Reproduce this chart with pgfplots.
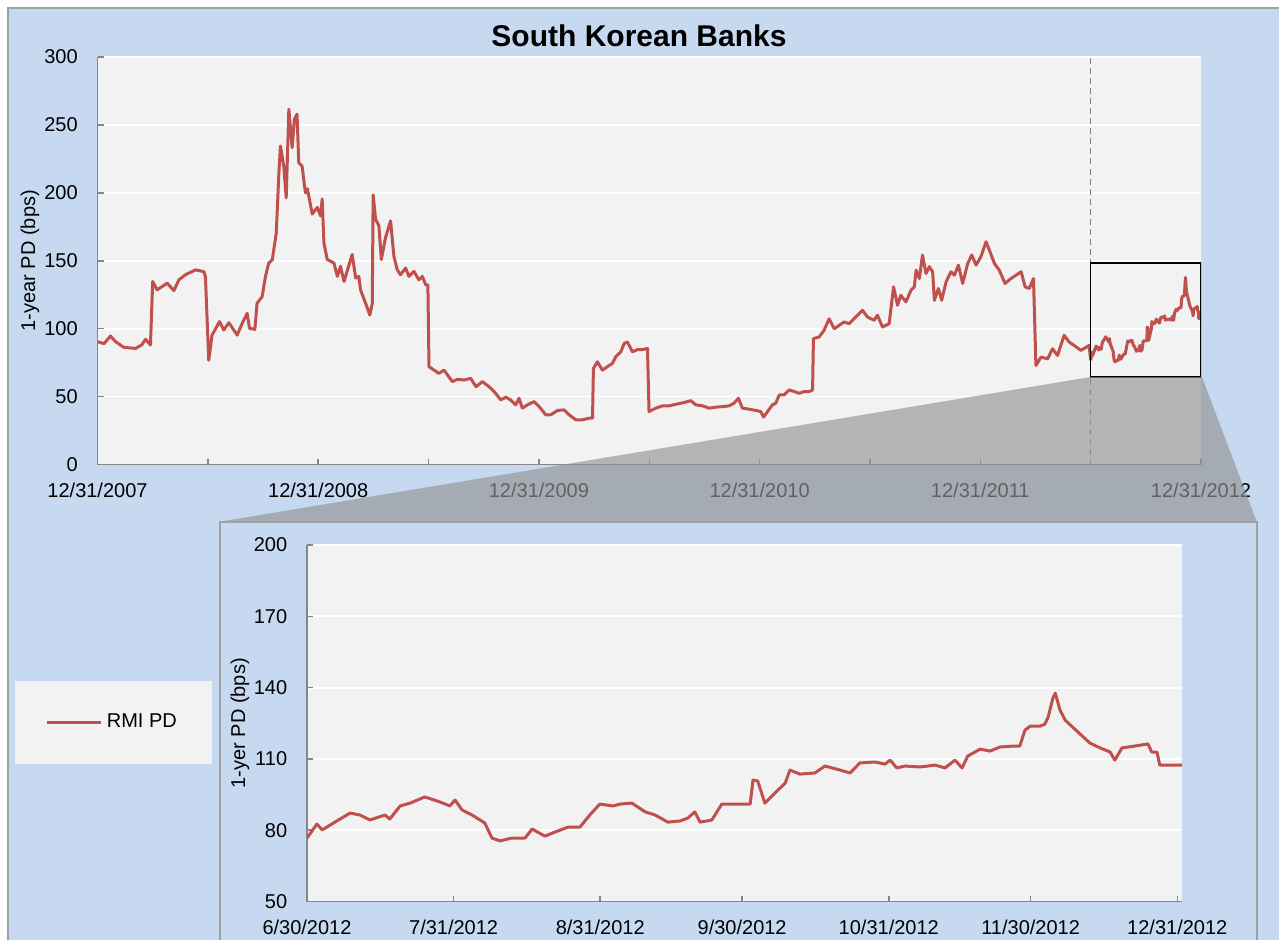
\documentclass[border=0pt]{standalone}
\usepackage{fontspec}
\setmainfont{Liberation Sans}
\usepackage{pgfplots}
\usepackage{pgfplotstable}
\pgfplotsset{compat=1.18}
\definecolor{bgblue}{HTML}{C6D9F1}
\definecolor{plotgray}{HTML}{F2F2F2}
\definecolor{rmired}{HTML}{C0504D}
\definecolor{axiscol}{HTML}{868686}
\definecolor{bordercol}{HTML}{A0A0A0}
\definecolor{shadecol}{RGB}{148,148,148}

\pgfplotstableread{
t v
0.000 90.4
0.030 89
0.059 94.6
0.082 90.4
0.120 86.2
0.173 85.5
0.200 88
0.218 92.1
0.240 88
0.250 134.7
0.270 128.6
0.316 133.5
0.346 128
0.369 136
0.399 139.7
0.444 143.3
0.482 142
0.489 138.4
0.504 76.8
0.519 95.3
0.553 105.2
0.572 99
0.595 104.4
0.633 95.3
0.656 104
0.678 111.3
0.689 100.2
0.713 99.5
0.723 118.7
0.746 123.6
0.761 138.4
0.776 148.3
0.792 150.7
0.810 170.4
0.822 214.8
0.829 234.5
0.844 219.7
0.855 196.3
0.867 261.6
0.882 233.2
0.892 254.2
0.904 257.9
0.912 222.2
0.927 219.7
0.942 200
0.951 203
0.973 184.4
0.996 189.3
1.011 183
1.018 195.5
1.026 163
1.041 150.9
1.071 148.4
1.087 138.5
1.101 146
1.117 134.7
1.154 154.6
1.170 137.2
1.184 138.5
1.192 128.5
1.215 118.6
1.234 110
1.245 118.6
1.249 198.5
1.260 180.6
1.275 175.7
1.286 150.9
1.305 167
1.328 179.4
1.343 153.3
1.358 143.4
1.373 139.7
1.396 144.7
1.411 138.5
1.434 142.2
1.456 136
1.472 138.5
1.487 132.3
1.497 132.3
1.502 72
1.525 69.5
1.547 67
1.570 69.5
1.608 61
1.630 62.7
1.661 62.2
1.691 63.4
1.715 57.3
1.744 61
1.774 57.3
1.797 53.7
1.827 47.6
1.850 49.5
1.872 47.6
1.895 43.9
1.910 48.8
1.925 41.5
1.948 43.9
1.978 46.3
2.001 42.7
2.031 36.6
2.054 36.6
2.084 39.8
2.114 40.2
2.137 36.6
2.167 32.9
2.197 32.9
2.227 34.1
2.243 34.1
2.247 70.7
2.265 75.6
2.288 69.5
2.310 72
2.333 74.4
2.348 79.3
2.371 82.9
2.386 89
2.401 90.2
2.424 82.9
2.446 84.6
2.469 84.6
2.492 85.4
2.499 39
2.530 41.5
2.560 43.2
2.590 43.2
2.628 44.6
2.658 45.6
2.688 47
2.711 43.9
2.741 43.2
2.771 41.5
2.802 42.2
2.839 42.7
2.862 43.2
2.884 45.1
2.904 48.8
2.922 41.5
2.953 40.7
2.983 39.8
3.005 39
3.018 34.9
3.036 39
3.058 43.9
3.073 45.1
3.089 51.2
3.111 51.2
3.134 54.9
3.157 53.7
3.179 52.4
3.202 53.7
3.225 53.7
3.240 54.9
3.244 92.7
3.270 93.9
3.292 98.8
3.315 107.3
3.338 100
3.360 102.4
3.383 104.9
3.406 103.7
3.436 108.6
3.466 113.5
3.489 108.6
3.519 106.2
3.534 109.9
3.557 101.2
3.587 103.7
3.607 130.8
3.625 117.2
3.640 124.6
3.663 119.7
3.686 128.3
3.701 130.8
3.709 143.1
3.724 136.9
3.738 154.2
3.754 140.6
3.769 145.6
3.784 141.9
3.792 120.9
3.810 129.6
3.825 120.9
3.845 134.5
3.867 141.9
3.883 139.4
3.901 146.8
3.920 133.3
3.943 148
3.961 154.2
3.981 146.8
4.003 153
4.026 164
4.041 157.9
4.064 148
4.086 143.1
4.112 133.3
4.139 136.9
4.162 139.4
4.185 141.9
4.203 130.8
4.222 129.6
4.241 136.9
4.252 72.9
4.275 79.1
4.305 77.8
4.327 85.2
4.350 80.3
4.380 95.1
4.403 90.1
4.425 87.7
4.456 84
4.493 87.7
4.500 76.7
}\toptable

\pgfplotstableread{
d v
0 76.7
2.1 82.6
3.2 80.1
5.9 83.4
9.1 87.2
11.2 86.4
13.3 84.3
16.5 86.4
17.5 84.7
19.7 90.2
21.8 91.4
24.9 94
28.1 91.9
30.2 90.2
31.3 92.7
32.8 88.5
34.9 86.4
37.6 83
39.1 76.7
40.8 75.5
43.3 76.7
46.1 76.7
47.6 80.5
50.3 77.5
52.4 79.2
55.2 81.3
57.7 81.3
59.8 86.4
61.9 91
64.7 90.2
66.2 91
68.7 91.4
71.5 87.7
73.6 86.4
76.3 83.4
78.9 83.9
80.5 85.1
82 87.7
83.1 83.4
85.6 84.3
87.7 91
91.5 91
93.7 91
94.3 101.1
95.3 100.7
96.8 91.4
98.9 95.6
101.1 99.8
102.1 105.3
104.2 103.6
107.4 104.1
109.5 107
112.7 105.3
114.8 104.1
116.9 108.3
120.1 108.7
122.2 107.8
123.3 109.5
124.7 106.2
126.4 107
129.6 106.6
132.8 107.4
134.9 106.2
137 109.5
138.5 106.2
139.7 111.2
142.3 114.1
144.4 113.3
146.5 115
149.3 115.4
150.7 115.4
151.8 122.1
152.9 123.8
155 123.8
156 124.6
156.7 127.6
157.7 135.6
158.2 137.7
159.2 130.6
160.3 126.3
163 121.3
165.5 116.7
167.7 114.6
169.8 112.9
170.8 109.5
172.3 114.6
175 115.4
177.8 116.3
178.6 112.9
179.7 112.9
180.3 107.4
182.5 107.4
185 107.4
}\zoomtable

\pgfplotsset{
  rmistyle/.style={axis x line*=bottom, axis y line*=left,
    axis line style={axiscol, line width=0.75pt},
    tick style={axiscol, line width=0.75pt},
    tick align=inside, major tick length=3pt, minor tick length=3pt,
    axis background/.style={fill=plotgray},
    ymajorgrids, major grid style={white, line width=0.9pt},
    ticklabel style={font=\fontsize{10}{12}\selectfont},
    /pgf/number format/assume math mode=true,
    yticklabel style={xshift=-6.4pt},
    xticklabel style={yshift=-5.5pt},
    label style={font=\fontsize{10}{12}\selectfont},
  }
}

\begin{document}
\begin{tikzpicture}[x=0.5pt,y=0.5pt]
\useasboundingbox (0,0) rectangle (1279,939);
\clip (0,0) rectangle (1279,939);
\fill[white] (0,0) rectangle (1279,939);
\draw[bordercol, line width=1pt, fill=bgblue] (7.5,931) rectangle (1300,-20);
\node[font=\bfseries\fontsize{15}{18}\selectfont] at (639,903) {South Korean Banks};

\begin{axis}[rmistyle,
  at={(48.75pt,237.25pt)}, anchor=south west,
  scale only axis, width=551.75pt, height=203.75pt,
  xmin=0, xmax=5, ymin=0, ymax=300,
  xtick={0,1,2,3,4,5},
  xticklabels={12/31/2007,12/31/2008,12/31/2009,12/31/2010,12/31/2011,12/31/2012},
  minor xtick={0.5,1.5,2.5,3.5,4.5},
  ytick={0,50,100,150,200,250,300},
  ylabel={1-year PD (bps)},
  ylabel style={at={(axis description cs:-0.0612,0.5)}, anchor=center},
]
\draw[gray, dash pattern=on 3pt off 2pt, line width=0.6pt] (axis cs:4.5,0) -- (axis cs:4.5,300);
\addplot[rmired, line width=1.5pt, line join=round] table[x=t, y=v] {\toptable};
\addplot[rmired, line width=1.5pt, line join=round] table[x expr=4.5+\thisrow{d}/368, y=v] {\zoomtable};
\draw[black, line width=0.8pt] (axis cs:4.5,64.6) rectangle (axis cs:5,148.4);
\end{axis}

\fill[shadecol, opacity=0.66] (1090.5,562) -- (1202,562) -- (1256.7,417.3) -- (220,417.3) -- cycle;
\draw[bordercol, line width=1pt, fill=bgblue] (220,417.3) rectangle (1256.7,-30);

\begin{axis}[rmistyle,
  at={(153.5pt,18.75pt)}, anchor=south west,
  scale only axis, width=437.5pt, height=178.25pt,
  xmin=0, xmax=185, ymin=50, ymax=200,
  xtick={0,31,62,92,123,153,184},
  xticklabels={6/30/2012,7/31/2012,8/31/2012,9/30/2012,10/31/2012,11/30/2012,12/31/2012},
  ytick={50,80,110,140,170,200},
  ylabel={1-yer PD (bps)},
  ylabel style={at={(axis description cs:-0.0766,0.5)}, anchor=center},
  legend style={at={(axis description cs:-0.2213,0.502)}, anchor=center,
    fill=plotgray, draw=none, inner xsep=15.5pt, inner ysep=14.5pt,
    font=\fontsize{10}{12}\selectfont},
  legend image code/.code={\draw[#1] (0pt,0pt) -- (27pt,0pt);},
]
\addplot[rmired, line width=1.5pt, line join=round] table[x=d, y=v] {\zoomtable};
\addlegendentry{RMI PD}
\end{axis}
\end{tikzpicture}
\end{document}
